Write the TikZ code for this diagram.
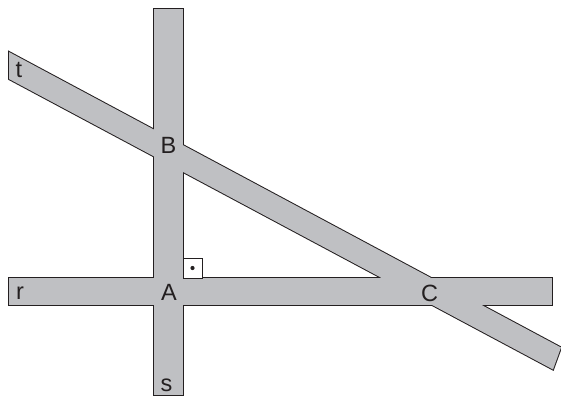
\documentclass[tikz,border=0pt]{standalone}
\usepackage{fontspec}
\setmainfont{Liberation Sans}
\usepackage{tikz}
\definecolor{bandgris}{RGB}{191,192,195}
\definecolor{grisfonce}{HTML}{231F20}

\begin{document}
\begin{tikzpicture}[x=1pt, y=-1pt,
    band/.style={fill=bandgris},
    bandline/.style={draw=grisfonce, line width=2pt, line join=miter},
    lbl/.style={font=\fontsize{23.5}{28}\selectfont, anchor=base, inner sep=0pt, text=grisfonce},
    rect/.style={draw=grisfonce, line width=1pt, fill=white}
  ]
    \useasboundingbox (0,0) rectangle (561,396);
    % Ecken der Streifen
    \coordinate (s1) at (154,9);
    \coordinate (s2) at (183,395);
    \coordinate (r1) at (9,278);
    \coordinate (r2) at (552,305);
    \coordinate (t1) at (9,52);
    \coordinate (t2) at (561,347.5);
    \coordinate (t3) at (553,369.5);
    \coordinate (t4) at (9,79);
    % Umriss (wird von der Fuellung halb verdeckt)
    \draw[bandline] (s1) rectangle (s2);
    \draw[bandline] (r1) rectangle (r2);
    \draw[bandline] (t1) -- (t2) -- (t3) -- (t4) -- cycle;
    % Fuellung
    \fill[band] (s1) rectangle (s2);
    \fill[band] (r1) rectangle (r2);
    \fill[band] (t1) -- (t2) -- (t3) -- (t4) -- cycle;
    % rechter Winkel
    \draw[rect] (183,258) rectangle (202,278);
    \fill[grisfonce] (192.5,268) circle (2.1);
    % Beschriftung
    \node[lbl] (t) at (19,77) {t};
    \node[lbl] (r) at (20,299) {r};
    \node[lbl] (s) at (166.5,391) {s};
    \node[lbl] (A) at (169,300) {A};
    \node[lbl] (B) at (168.5,153) {B};
    \node[lbl] (C) at (429.5,301) {C};
\end{tikzpicture}
\end{document}
